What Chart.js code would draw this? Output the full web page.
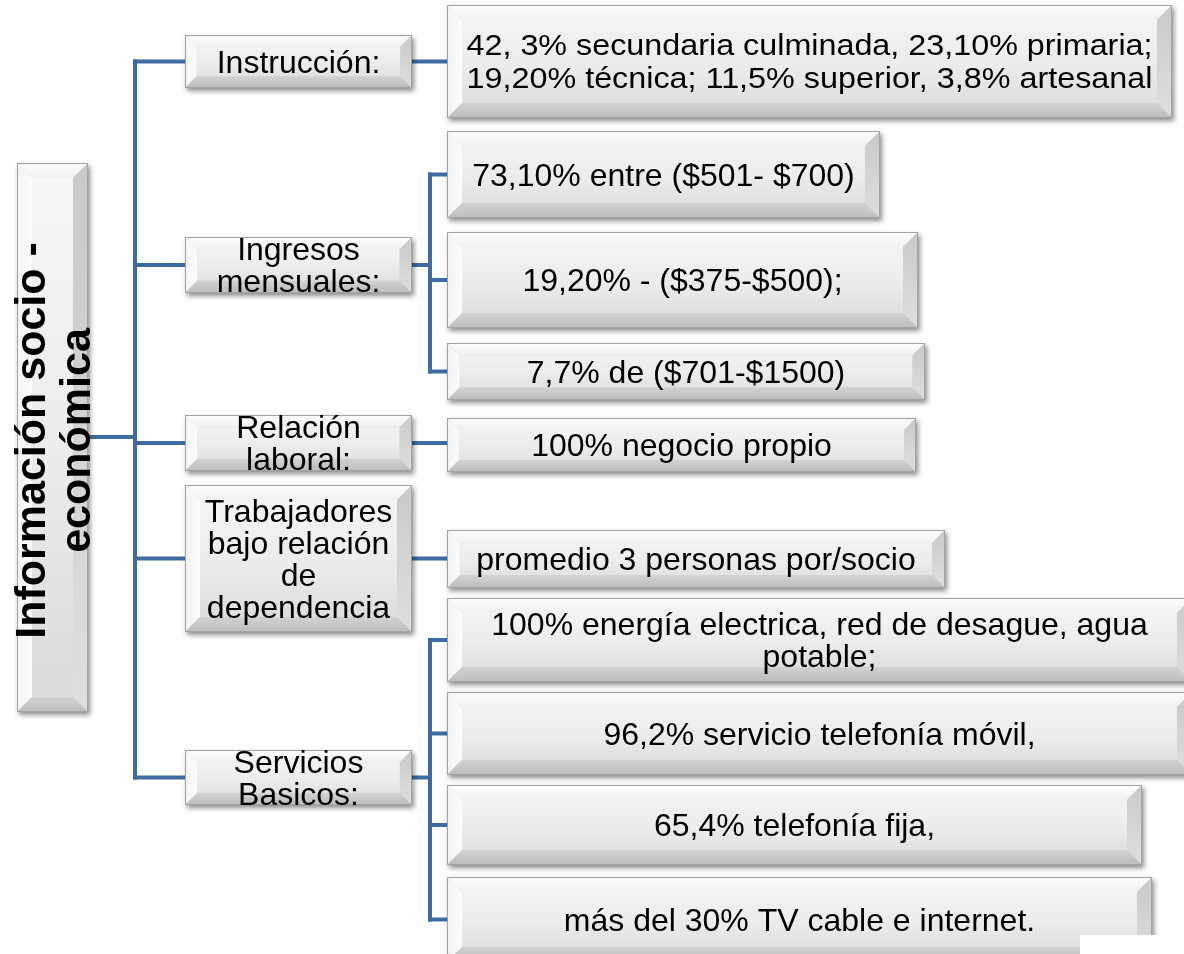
<!DOCTYPE html>
<html>
<head>
<meta charset="utf-8">
<script src="https://cdn.jsdelivr.net/npm/chart.js@4"></script>
<style>
  html, body { margin: 0; padding: 0; background: #fff; }
  #diagram { display: block; }
</style>
</head>
<body>
<canvas id="diagram" width="1184" height="954"></canvas>
<script>
/* ── DATA ── */
const rootLines = ['Información socio -', 'económica'];
const groupLines = [
  ['Instrucción:'],
  ['Ingresos', 'mensuales:'],
  ['Relación', 'laboral:'],
  ['Trabajadores', 'bajo relación', 'de', 'dependencia'],
  ['Servicios', 'Basicos:']
];
const instruccionItems = [['42, 3% secundaria culminada, 23,10% primaria;', '19,20% técnica; 11,5% superior, 3,8% artesanal']];
const ingresosItems = [['73,10% entre ($501- $700)'], ['19,20% - ($375-$500);'], ['7,7% de ($701-$1500)']];
const relacionItems = [['100% negocio propio']];
const trabajadoresItems = [['promedio 3 personas por/socio']];
const serviciosItems = [
  ['100% energía electrica, red de desague, agua', 'potable;'],
  ['96,2% servicio telefonía móvil,'],
  ['65,4% telefonía fija,'],
  ['más del 30% TV cable e internet.']
];
const detailItems = [instruccionItems, ingresosItems, relacionItems, trabajadoresItems, serviciosItems];

/* ── LAYOUT (diagram units = px) ── */
const rootBox = [17, 163, 88, 712];
const groupBoxes = [
  [185, 35, 412, 88],
  [185, 237, 412, 293],
  [185, 415, 412, 471],
  [185, 485, 412, 632],
  [185, 750, 412, 805]
];
const detailBoxes = [
  [[447, 5, 1172, 118]],
  [[447, 131, 880, 218], [447, 232, 918, 328], [447, 343, 925, 400]],
  [[447, 418, 916, 472]],
  [[447, 530, 945, 588]],
  [[447, 598, 1192, 682], [447, 692, 1192, 775], [447, 785, 1142, 865], [447, 877, 1152, 962]]
];
const detailStyle = [
  [{ size: 29, lh: 33, fitW: 686 }],
  [{}, {}, {}], [{}], [{}], [{}, {}, {}, {}]
];
const trunkX = 135, elbowX = 430, rootLinkY = 437;
const lineColor = '#3f6ba3';
const font = '"Liberation Sans", Arial, sans-serif';

const centerY = b => (b[1] + b[3]) / 2;

/* ── DRAW HELPERS ── */
function bevelBox(ctx, X, Y, b) {
  const x0 = X(b[0]), y0 = Y(b[1]), x1 = X(b[2]), y1 = Y(b[3]);
  const w = x1 - x0, h = y1 - y0;
  const bw = Math.min(15, Math.min(w, h) * 0.22);
  ctx.save();
  ctx.shadowColor = 'rgba(0,0,0,0.45)';
  ctx.shadowBlur = 5; ctx.shadowOffsetX = 2; ctx.shadowOffsetY = 3;
  ctx.fillStyle = '#d4d4d4';
  ctx.fillRect(x0, y0, w, h);
  ctx.restore();

  const poly = (pts, fill) => {
    ctx.beginPath();
    ctx.moveTo(pts[0][0], pts[0][1]);
    pts.slice(1).forEach(p => ctx.lineTo(p[0], p[1]));
    ctx.closePath();
    ctx.fillStyle = fill; ctx.fill();
  };
  // face
  const g = ctx.createLinearGradient(0, y0, 0, y1);
  g.addColorStop(0, '#f6f6f6'); g.addColorStop(0.55, '#ebebeb'); g.addColorStop(1, '#d9d9d9');
  ctx.fillStyle = g;
  ctx.fillRect(x0 + bw, y0 + bw, w - 2 * bw, h - 2 * bw);
  // bevels
  const gt = ctx.createLinearGradient(0, y0, 0, y0 + bw);
  gt.addColorStop(0, '#fdfdfd'); gt.addColorStop(1, '#f0f0f0');
  poly([[x0, y0], [x1, y0], [x1 - bw, y0 + bw], [x0 + bw, y0 + bw]], gt);
  const gl = ctx.createLinearGradient(x0, 0, x0 + bw, 0);
  gl.addColorStop(0, '#f2f2f2'); gl.addColorStop(1, '#fbfbfb');
  poly([[x0, y0], [x0 + bw, y0 + bw], [x0 + bw, y1 - bw], [x0, y1]], gl);
  const gr = ctx.createLinearGradient(0, y0, 0, y1);
  gr.addColorStop(0, '#c9c9c9'); gr.addColorStop(1, '#dedede');
  poly([[x1, y0], [x1, y1], [x1 - bw, y1 - bw], [x1 - bw, y0 + bw]], gr);
  const gb = ctx.createLinearGradient(0, y1 - bw, 0, y1);
  gb.addColorStop(0, '#d2d2d2'); gb.addColorStop(1, '#bcbcbc');
  poly([[x0, y1], [x1, y1], [x1 - bw, y1 - bw], [x0 + bw, y1 - bw]], gb);
  // outline
  ctx.strokeStyle = '#a3a3a3'; ctx.lineWidth = 1;
  ctx.strokeRect(x0 + 0.5, y0 + 0.5, w - 1, h - 1);
}

function boxText(ctx, X, Y, b, lines, st) {
  const size = st.size || 32, lh = st.lh || 32, dy = st.dy || 0;
  const cx = X((b[0] + b[2]) / 2), cy = Y(centerY(b)) + dy;
  ctx.save();
  ctx.font = size + 'px ' + font;
  ctx.fillStyle = '#000';
  ctx.textAlign = 'center';
  ctx.textBaseline = 'alphabetic';
  lines.forEach((t, i) => {
    const y = cy + (i - (lines.length - 1) / 2) * lh + size * 0.355;
    if (st.fitW) {
      // stretched text, as in the original box
      const k = st.fitW / ctx.measureText(t).width;
      ctx.save();
      ctx.translate(cx, y);
      ctx.scale(k, 1);
      ctx.fillText(t, 0, 0);
      ctx.restore();
    } else {
      ctx.fillText(t, cx, y);
    }
  });
  ctx.restore();
}

function seg(ctx, X, Y, xa, ya, xb, yb) {
  ctx.beginPath();
  ctx.moveTo(X(xa), Y(ya)); ctx.lineTo(X(xb), Y(yb));
  ctx.stroke();
}

/* ── DIAGRAM PLUGIN ── */
const diagramPlugin = {
  id: 'diagram',
  afterDatasetsDraw(chart) {
    const ctx = chart.ctx;
    const X = v => chart.scales.x.getPixelForValue(v);
    const Y = v => chart.scales.y.getPixelForValue(v);

    // connectors
    ctx.save();
    ctx.strokeStyle = lineColor; ctx.lineWidth = 4; ctx.lineCap = 'square';
    seg(ctx, X, Y, rootBox[2], rootLinkY, trunkX, rootLinkY);
    seg(ctx, X, Y, trunkX, centerY(groupBoxes[0]), trunkX, centerY(groupBoxes[groupBoxes.length - 1]));
    groupBoxes.forEach((gb, i) => {
      const gy = centerY(gb);
      seg(ctx, X, Y, trunkX, gy, gb[0], gy);
      const kids = detailBoxes[i];
      if (kids.length === 1) {
        seg(ctx, X, Y, gb[2], gy, kids[0][0], gy);
      } else {
        seg(ctx, X, Y, gb[2], gy, elbowX, gy);
        seg(ctx, X, Y, elbowX, centerY(kids[0]), elbowX, centerY(kids[kids.length - 1]));
        kids.forEach(k => seg(ctx, X, Y, elbowX, centerY(k), k[0], centerY(k)));
      }
    });
    ctx.restore();

    // root box with rotated title
    bevelBox(ctx, X, Y, rootBox);
    ctx.save();
    ctx.translate(0, Y(centerY(rootBox)) + 3);
    ctx.rotate(-Math.PI / 2);
    ctx.font = 'bold 43px ' + font;
    ctx.fillStyle = '#000'; ctx.textAlign = 'center';
    ctx.fillText(rootLines[0], 0, X(45));
    ctx.fillText(rootLines[1], 0, X(90));
    ctx.restore();

    // group + detail boxes
    groupBoxes.forEach((gb, i) => {
      bevelBox(ctx, X, Y, gb);
      boxText(ctx, X, Y, gb, groupLines[i], {});
      detailBoxes[i].forEach((db, j) => {
        bevelBox(ctx, X, Y, db);
        boxText(ctx, X, Y, db, detailItems[i][j], detailStyle[i][j]);
      });
    });

    // white patch in the bottom-right corner
    ctx.fillStyle = '#fff';
    ctx.fillRect(X(1080), Y(935), X(1184) - X(1080), Y(954) - Y(935));
  }
};

/* ── CHART ── */
const nodePoints = [rootBox].concat(groupBoxes, detailBoxes.flat())
  .map(b => ({ x: (b[0] + b[2]) / 2, y: centerY(b) }));

new Chart(document.getElementById('diagram'), {
  type: 'scatter',
  data: { datasets: [{ data: nodePoints, pointRadius: 0, pointHoverRadius: 0 }] },
  options: {
    responsive: false,
    animation: false,
    layout: { padding: 0 },
    plugins: { legend: { display: false }, tooltip: { enabled: false } },
    scales: {
      x: { display: false, min: 0, max: 1184 },
      y: { display: false, min: 0, max: 954, reverse: true }
    }
  },
  plugins: [diagramPlugin]
});
</script>
</body>
</html>
